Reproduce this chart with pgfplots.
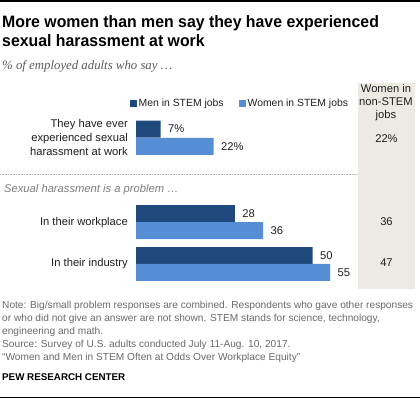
\documentclass[border=0pt]{standalone}
\usepackage{pgfplots}
\pgfplotsset{compat=1.18}
\usepackage{fontspec}
\setmainfont{Liberation Sans}
\newfontfamily\titlefont[FakeStretch=0.96]{Liberation Sans}
\newfontfamily\notefont{Liberation Sans}
\newfontfamily\subfont{Liberation Serif}
\definecolor{men}{RGB}{31,73,125}
\definecolor{women}{RGB}{85,142,213}
\definecolor{colbg}{RGB}{237,234,227}
\definecolor{txt}{RGB}{30,30,30}
\definecolor{notecol}{RGB}{105,105,105}
\definecolor{subgray}{RGB}{90,90,90}
\definecolor{secgray}{RGB}{125,125,125}
\begin{document}
\begin{tikzpicture}[x=1pt,y=-1pt]
\path[use as bounding box] (0,0) rectangle (420,399);
\draw[black, line width=1.5pt] (0,1) -- (420,1);
\draw[black, line width=1pt] (0,397.3) -- (420,397.3);
\fill[colbg] (357.7,83) rectangle (414.5,289);
\draw[gray!60, line width=0.6pt, dash pattern=on 0.8pt off 0.8pt] (0,174) -- (357.7,174);
% title
\node[anchor=base west, inner sep=0, font=\titlefont\bfseries\fontsize{16.5}{19}\selectfont] at (2,27.3) {More women than men say they have experienced};
\node[anchor=base west, inner sep=0, font=\titlefont\bfseries\fontsize{16.5}{19}\selectfont] at (2,46.5) {sexual harassment at work};
\node[anchor=base west, inner sep=0, font=\subfont\itshape\fontsize{12.8}{14}\selectfont, text=subgray] at (2,69.5) {\% of employed adults who say \ldots};
% column header
\node[anchor=base, inner sep=0, font=\fontsize{11.2}{13}\selectfont, text=txt] at (386,92) {Women in};
\node[anchor=base, inner sep=0, font=\fontsize{11.2}{13}\selectfont, text=txt] at (386,105) {non-STEM};
\node[anchor=base, inner sep=0, font=\fontsize{11.2}{13}\selectfont, text=txt] at (386,118) {jobs};
% category labels
\begin{scope}[every node/.style={anchor=base east, inner sep=0, font=\fontsize{11.2}{13}\selectfont, text=txt}]
\node at (128,127.7) {They have ever};
\node at (128,141.4) {experienced sexual};
\node at (128,155) {harassment at work};
\node at (128,225.5) {In their workplace};
\node at (128,266.5) {In their industry};
\end{scope}
\node[anchor=base west, inner sep=0, font=\fontsize{11.2}{13}\selectfont\itshape, text=secgray] at (4,192.7) {Sexual harassment is a problem \ldots};
% notes
\begin{scope}[every node/.style={anchor=base west, inner sep=0, font=\notefont\fontsize{10.15}{13}\selectfont, text=notecol}]
\node at (2,308.5) {Note: Big/small problem responses are combined. Respondents who gave other responses};
\node at (2,321.5) {or who did not give an answer are not shown. STEM stands for science, technology,};
\node at (2,334.5) {engineering and math.};
\node at (2,347.5) {Source: Survey of U.S. adults conducted July 11-Aug. 10, 2017.};
\node at (2,360.5) {“Women and Men in STEM Often at Odds Over Workplace Equity”};
\end{scope}
\node[anchor=base west, inner sep=0, font=\notefont\bfseries\fontsize{9.8}{12}\selectfont] at (2,380.5) {PEW RESEARCH CENTER};
\begin{axis}[at={(136pt,0pt)}, anchor=north west, scale only axis,
  width=211.8pt, height=399pt, xmin=0, xmax=60, ymin=0, ymax=399, y dir=reverse,
  axis lines=none, clip=false,
  legend columns=2,
  legend style={at={(axis cs:-1.7,103.5)}, anchor=west, draw=none, fill=none, inner sep=0pt,
    font=\fontsize{10.4}{12}\selectfont, text=txt,
    nodes={inner sep=1.5pt},
    /tikz/every even column/.append style={column sep=14pt}},
  legend image code/.code={\fill[#1] (0pt,-3.5pt) rectangle (7pt,3.5pt);},
  nodes near coords style={font=\fontsize{11.2}{13}\selectfont, text=txt},
]
\addplot[xbar, bar width=17, bar shift=0pt, fill=men, draw=none,
  nodes near coords, point meta=explicit symbolic,
  every node near coord/.append style={anchor=west, xshift=4pt}]
  coordinates {(7,129) [7\%] (28,213.6) [28] (50,255.6) [50]};
\addlegendentry{Men in STEM jobs}
\addplot[xbar, bar width=17, bar shift=0pt, fill=women, draw=none,
  nodes near coords, point meta=explicit symbolic,
  every node near coord/.append style={anchor=west, xshift=4pt}]
  coordinates {(22,146.3) [22\%] (36,230.6) [36] (55,272.3) [55]};
\addlegendentry{Women in STEM jobs}
\addplot[draw=none, mark=none, forget plot,
  nodes near coords, point meta=explicit symbolic,
  every node near coord/.append style={anchor=center}]
  coordinates {(70.96,138.3) [22\%] (70.96,222) [36] (70.96,263) [47]};
\end{axis}
\end{tikzpicture}
\end{document}
